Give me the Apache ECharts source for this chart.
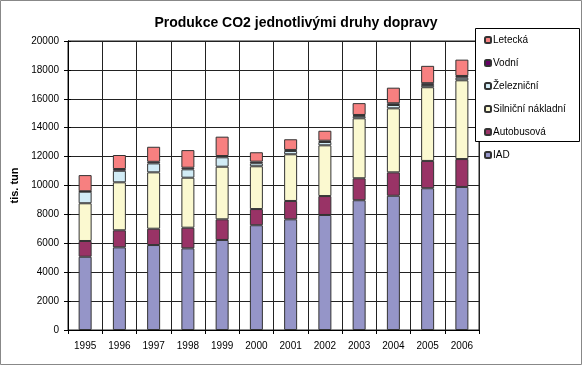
<!DOCTYPE html>
<html><head><meta charset="utf-8">
<script src="https://cdn.jsdelivr.net/npm/echarts@6/dist/echarts.min.js"></script>
<style>html,body{margin:0;padding:0;background:#fff}#c{width:582px;height:365px}</style>
</head><body><div id="c"></div>
<script>
const years = ['1995','1996','1997','1998','1999','2000','2001','2002','2003','2004','2005','2006'];
const iad        = [5070, 5720, 5880, 5650, 6230, 7250, 7660, 7960, 8980, 9290, 9810, 9900];
const autobusova = [1090, 1180, 1130, 1430, 1430, 1120, 1270, 1310, 1520, 1620, 1890, 1930];
const silnicni   = [2610, 3320, 3900, 3460, 3640, 2960, 3230, 3510, 4150, 4430, 5100, 5450];
const zeleznicni = [800, 800, 620, 580, 650, 210, 230, 230, 150, 230, 160, 180];
const vodni      = [30, 120, 110, 110, 90, 110, 70, 90, 80, 120, 120, 120];
const letecka    = [1120, 970, 1040, 1220, 1340, 650, 740, 690, 820, 1080, 1200, 1130];
const yTicks = [0, 2000, 4000, 6000, 8000, 10000, 12000, 14000, 16000, 18000, 20000];
const legendOrder = ['Letecká','Vodní','Železniční','Silniční nákladní','Autobusová','IAD'];

const F = 'Liberation Sans, Arial, sans-serif';
const chart = echarts.init(document.getElementById('c'));
function s(name, data, color) {
  return {name, type:'bar', stack:'a', data, barWidth:13,
    itemStyle:{color, borderColor:'#333', borderWidth:1}};
}
chart.setOption({
  animation:false,
  backgroundColor:'#fff',
  title:{text:'Produkce CO2 jednotlivými druhy dopravy', left:291, textAlign:'center', top:11,
    textStyle:{fontFamily:F, fontSize:14, fontWeight:'bold', color:'#000'}},
  legend:{orient:'vertical', left:484, top:35, itemWidth:6, itemHeight:6, itemGap:13,
    data:legendOrder, padding:0, z:20,
    textStyle:{fontFamily:F, fontSize:10, color:'#000', padding:[0,0,0,-3]}},
  grid:{left:68, right:103, top:41, bottom:35, show:true, borderColor:'#222', borderWidth:1},
  xAxis:{type:'category', data:years,
    axisLine:{lineStyle:{color:'#000'}},
    axisTick:{show:true, length:4, lineStyle:{color:'#000'}},
    splitLine:{show:true, lineStyle:{color:'#222'}},
    axisLabel:{fontFamily:F, fontSize:10, color:'#000', margin:11}},
  yAxis:[{type:'value', min:0, max:20000, interval:2000,
    name:'tis. tun', nameLocation:'middle', nameGap:30,
    nameTextStyle:{fontFamily:F, fontSize:11, fontWeight:'bold', color:'#000'},
    axisLine:{show:true, lineStyle:{color:'#000'}},
    axisTick:{show:true, length:4, lineStyle:{color:'#000'}},
    splitLine:{lineStyle:{color:'#222'}},
    axisLabel:{fontFamily:F, fontSize:10, color:'#000', margin:9,
      formatter:v=>yTicks.includes(v)?String(v):''}},
   {type:'value', min:0, max:20000, interval:2000, position:'left',
    axisLine:{show:true, lineStyle:{color:'#000'}},
    axisTick:{show:true, inside:true, length:3, lineStyle:{color:'#000'}},
    axisLabel:{show:false}, splitLine:{show:false}}],
  series:[
    s('IAD', iad, '#9595c8'),
    s('Autobusová', autobusova, '#993366'),
    s('Silniční nákladní', silnicni, '#fbf9d0'),
    s('Železniční', zeleznicni, '#d2ecf6'),
    s('Vodní', vodni, '#660066'),
    s('Letecká', letecka, '#f78080')
  ],
  graphic:[
    {type:'rect', shape:{x:0.5, y:0.5, width:581, height:364},
     style:{fill:null, stroke:'#888', lineWidth:1}, silent:true, z:-1},
    {type:'rect', shape:{x:475.5, y:28.5, width:104, height:113},
     style:{fill:'#fff', stroke:'#000', lineWidth:1}, silent:true, z:15}
  ]
});
</script></body></html>
